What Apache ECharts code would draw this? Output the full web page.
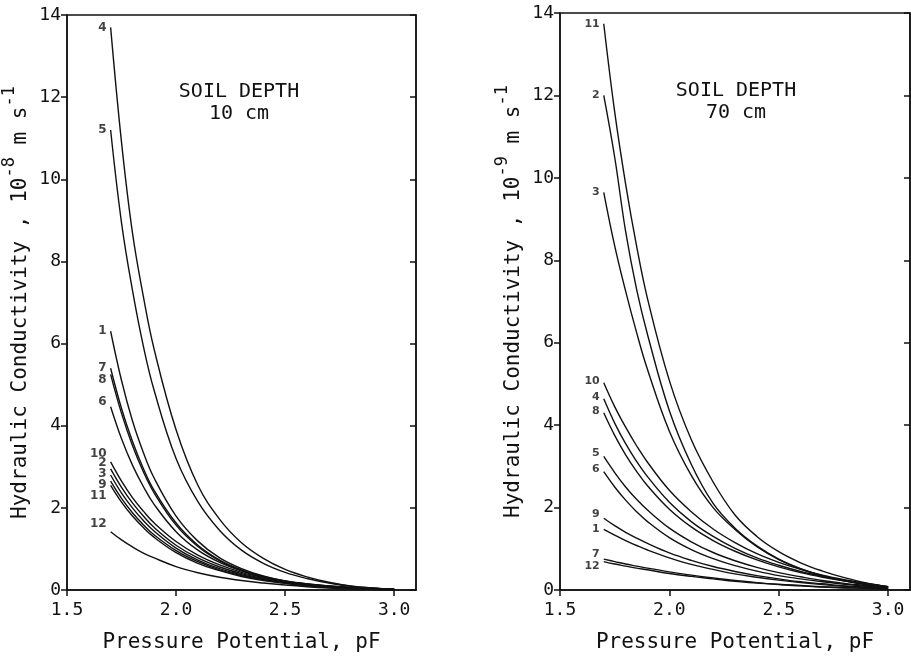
<!DOCTYPE html>
<html>
<head>
<meta charset="utf-8">
<script src="https://cdn.jsdelivr.net/npm/echarts@6/dist/echarts.min.js"></script>
<style>
html,body{margin:0;padding:0;background:#fff;}
#chart{width:911px;height:661px;}
</style>
</head>
<body>
<div id="chart"></div>
<script>
// Pressure potential sample points (pF)
const pF = [1.7, 1.75, 1.8, 1.85, 1.9, 2.0, 2.1, 2.2, 2.3, 2.4, 2.5, 2.6, 2.7, 2.8, 2.9, 3.0];
const xTicks = [1.5, 2.0, 2.5, 3.0];

// Soil depth 10 cm, hydraulic conductivity (x 1e-8 m/s)
const d10_4  = [13.7, 10.9, 8.7, 7.15, 5.85, 3.9, 2.55, 1.72, 1.15, 0.77, 0.50, 0.32, 0.19, 0.10, 0.05, 0.02];
const d10_5  = [11.2, 8.94, 7.3, 5.94, 4.85, 3.2, 2.15, 1.45, 0.97, 0.65, 0.43, 0.28, 0.17, 0.09, 0.045, 0.02];
const d10_1  = [6.3, 5.1, 4.12, 3.35, 2.72, 1.8, 1.19, 0.78, 0.52, 0.34, 0.22, 0.14, 0.09, 0.05, 0.03, 0.01];
const d10_7  = [5.4, 4.42, 3.62, 2.96, 2.42, 1.63, 1.09, 0.73, 0.49, 0.33, 0.22, 0.15, 0.10, 0.06, 0.04, 0.02];
const d10_8  = [5.25, 4.3, 3.52, 2.88, 2.36, 1.58, 1.06, 0.71, 0.48, 0.32, 0.21, 0.14, 0.09, 0.06, 0.04, 0.02];
const d10_6  = [4.46, 3.68, 3.04, 2.52, 2.08, 1.42, 0.97, 0.67, 0.46, 0.31, 0.21, 0.15, 0.10, 0.06, 0.04, 0.02];
const d10_10 = [3.12, 2.65, 2.25, 1.92, 1.63, 1.18, 0.85, 0.61, 0.43, 0.30, 0.20, 0.13, 0.08, 0.05, 0.03, 0.01];
const d10_2  = [2.95, 2.5, 2.12, 1.8, 1.52, 1.09, 0.78, 0.56, 0.40, 0.28, 0.19, 0.12, 0.08, 0.05, 0.03, 0.01];
const d10_3  = [2.8, 2.36, 2.0, 1.69, 1.43, 1.02, 0.73, 0.52, 0.37, 0.26, 0.18, 0.12, 0.07, 0.04, 0.02, 0.01];
const d10_9  = [2.65, 2.23, 1.88, 1.59, 1.34, 0.96, 0.69, 0.49, 0.35, 0.25, 0.17, 0.11, 0.07, 0.04, 0.02, 0.01];
const d10_11 = [2.55, 2.14, 1.8, 1.52, 1.28, 0.91, 0.65, 0.47, 0.33, 0.23, 0.16, 0.10, 0.06, 0.04, 0.02, 0.01];
const d10_12 = [1.42, 1.22, 1.05, 0.9, 0.78, 0.57, 0.42, 0.31, 0.23, 0.17, 0.12, 0.08, 0.05, 0.03, 0.02, 0.01];
const names10 = ['4', '5', '1', '7', '8', '6', '10', '2', '3', '9', '11', '12'];
const curves10 = [d10_4, d10_5, d10_1, d10_7, d10_8, d10_6, d10_10, d10_2, d10_3, d10_9, d10_11, d10_12];
const labelY10 = [13.68, 11.2, 6.3, 5.42, 5.12, 4.59, 3.32, 3.09, 2.83, 2.56, 2.28, 1.6];

// Soil depth 70 cm, hydraulic conductivity (x 1e-9 m/s)
const d70_11 = [13.74, 11.6, 9.85, 8.35, 7.07, 5.08, 3.65, 2.62, 1.82, 1.30, 0.93, 0.66, 0.46, 0.30, 0.17, 0.08];
const d70_2  = [12.0, 10.5, 8.7, 7.3, 6.2, 4.35, 3.05, 2.1, 1.5, 1.07, 0.75, 0.52, 0.35, 0.23, 0.13, 0.06];
const d70_3  = [9.65, 8.35, 7.25, 6.25, 5.35, 3.85, 2.78, 2.0, 1.47, 1.05, 0.74, 0.51, 0.34, 0.22, 0.13, 0.06];
const d70_10 = [5.03, 4.45, 3.95, 3.5, 3.1, 2.42, 1.9, 1.48, 1.15, 0.88, 0.67, 0.50, 0.36, 0.25, 0.16, 0.08];
const d70_4  = [4.64, 4.05, 3.55, 3.12, 2.75, 2.13, 1.66, 1.3, 1.01, 0.78, 0.60, 0.45, 0.33, 0.23, 0.15, 0.08];
const d70_8  = [4.3, 3.75, 3.28, 2.88, 2.53, 1.96, 1.53, 1.2, 0.94, 0.73, 0.56, 0.42, 0.31, 0.22, 0.14, 0.07];
const d70_5  = [3.24, 2.85, 2.5, 2.2, 1.94, 1.5, 1.17, 0.91, 0.71, 0.55, 0.42, 0.32, 0.23, 0.16, 0.11, 0.06];
const d70_6  = [2.87, 2.5, 2.18, 1.9, 1.66, 1.27, 0.98, 0.76, 0.59, 0.46, 0.35, 0.27, 0.20, 0.14, 0.09, 0.05];
const d70_9  = [1.74, 1.56, 1.4, 1.26, 1.13, 0.9, 0.72, 0.57, 0.45, 0.35, 0.27, 0.20, 0.15, 0.10, 0.07, 0.04];
const d70_1  = [1.47, 1.33, 1.2, 1.08, 0.97, 0.78, 0.62, 0.5, 0.39, 0.31, 0.24, 0.18, 0.13, 0.09, 0.06, 0.03];
const d70_7  = [0.75, 0.69, 0.63, 0.58, 0.53, 0.44, 0.36, 0.29, 0.23, 0.18, 0.14, 0.11, 0.08, 0.06, 0.04, 0.03];
const d70_12 = [0.69, 0.63, 0.58, 0.53, 0.49, 0.4, 0.33, 0.27, 0.21, 0.17, 0.13, 0.10, 0.07, 0.05, 0.04, 0.02];
const names70 = ['11', '2', '3', '10', '4', '8', '5', '6', '9', '1', '7', '12'];
const curves70 = [d70_11, d70_2, d70_3, d70_10, d70_4, d70_8, d70_5, d70_6, d70_9, d70_1, d70_7, d70_12];
const labelY70 = [13.74, 12.0, 9.66, 5.06, 4.69, 4.34, 3.32, 2.94, 1.84, 1.47, 0.87, 0.57];

const INK = '#111';
const MONO = '"DejaVu Sans Mono", monospace';

function xAxisFor(i) {
  return {
    type: 'value', gridIndex: i, min: 1.5, max: 3.1, interval: 0.5,
    axisLine: { show: true, onZero: false, lineStyle: { color: INK, width: 1.5 } },
    axisTick: { show: true, length: 6, customValues: xTicks, lineStyle: { color: INK, width: 1.5 } },
    axisLabel: { customValues: xTicks, formatter: v => v.toFixed(1), margin: 11,
      fontSize: 18, fontFamily: MONO, color: INK },
    splitLine: { show: false },
    name: 'Pressure Potential, pF', nameLocation: 'middle', nameGap: 42,
    nameTextStyle: { fontSize: 21, fontFamily: MONO, color: INK }
  };
}
function yAxesFor(i, exp) {
  return [{
    type: 'value', gridIndex: i, min: 0, max: 14, interval: 2,
    axisLine: { show: true, lineStyle: { color: INK, width: 1.5 } },
    axisTick: { show: true, length: 6, lineStyle: { color: INK, width: 1.5 } },
    axisLabel: { margin: 6, fontSize: 18, fontFamily: MONO, color: INK },
    splitLine: { show: false },
    name: '{n|Hydraulic Conductivity , 10}{s|' + exp + '}{n| m s}{s|-1}',
    nameLocation: 'middle', nameGap: 36,
    nameTextStyle: {
      fontSize: 21, fontFamily: MONO, color: INK,
      rich: {
        n: { fontSize: 21, fontFamily: MONO, color: INK, lineHeight: 30, verticalAlign: 'bottom' },
        s: { fontSize: 17, fontFamily: MONO, color: INK, verticalAlign: 'top' }
      }
    }
  }, {
    type: 'value', gridIndex: i, position: 'right', min: 0, max: 14, interval: 2,
    axisLine: { show: true, lineStyle: { color: INK, width: 1.5 } },
    axisTick: { show: true, inside: true, length: 6, lineStyle: { color: INK, width: 1.5 } },
    axisLabel: { show: false }, splitLine: { show: false }
  }];
}

const series = [];
function addPanel(i, curves, names, labelY, yIdx, labelSize) {
  curves.forEach((arr, k) => {
    series.push({
      type: 'line', name: names[k], xAxisIndex: i, yAxisIndex: yIdx,
      data: pF.map((x, j) => [x, arr[j]]),
      smooth: 0.4, symbol: 'none', silent: true,
      lineStyle: { color: INK, width: 1.4 }
    });
  });
  series.push({
    type: 'scatter', xAxisIndex: i, yAxisIndex: yIdx, symbolSize: 0, silent: true,
    data: names.map((n, k) => [pF[0], labelY[k], n]),
    itemStyle: { color: 'transparent' },
    label: { show: true, position: 'left', distance: 4, formatter: p => p.data[2],
      fontSize: labelSize, fontWeight: 'bold', fontFamily: '"DejaVu Sans", sans-serif', color: INK }
  });
}
addPanel(0, curves10, names10, labelY10, 0, 12);
addPanel(1, curves70, names70, labelY70, 2, 11);

const option = {
  animation: false,
  backgroundColor: '#fff',
  title: [
    { text: 'SOIL DEPTH\n10 cm', left: 234, top: 76, textAlign: 'center',
      textStyle: { fontSize: 20, fontWeight: 'normal', fontFamily: MONO, color: INK, lineHeight: 22 } },
    { text: 'SOIL DEPTH\n70 cm', left: 731, top: 75, textAlign: 'center',
      textStyle: { fontSize: 20, fontWeight: 'normal', fontFamily: MONO, color: INK, lineHeight: 22 } }
  ],
  grid: [
    { left: 67, right: 495, top: 15, bottom: 71, show: true, borderColor: INK, borderWidth: 1.5 },
    { left: 560, right: 1, top: 13, bottom: 71, show: true, borderColor: INK, borderWidth: 1.5 }
  ],
  xAxis: [xAxisFor(0), xAxisFor(1)],
  yAxis: [...yAxesFor(0, '-8'), ...yAxesFor(1, '-9')],
  series: series
};

const chart = echarts.init(document.getElementById('chart'), null, { renderer: 'canvas' });
chart.setOption(option);
</script>
</body>
</html>
